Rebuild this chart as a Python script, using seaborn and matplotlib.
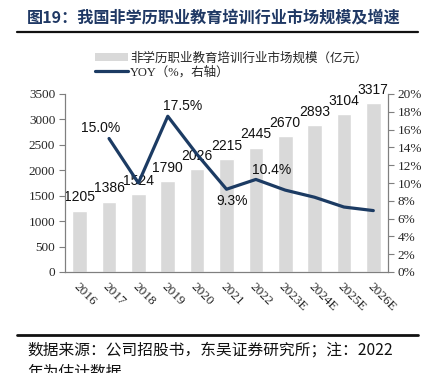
"""
图19：我国非学历职业教育培训行业市场规模及增速 (bar + line on twin axis).
"""

import numpy as np
import pandas as pd
import seaborn as sns
from matplotlib import pyplot as plt
from matplotlib.lines import Line2D
from matplotlib.patches import Patch

# === Data ===

years = ["2016", "2017", "2018", "2019", "2020", "2021", "2022",
         "2023E", "2024E", "2025E", "2026E"]
market_size = [1205, 1386, 1524, 1790, 2026, 2215, 2445, 2670, 2893, 3104, 3317]
yoy_years = ["2017", "2018", "2019", "2020", "2021", "2022",
             "2023E", "2024E", "2025E", "2026E"]
yoy = [15.0, 10.0, 17.5, 13.2, 9.3, 10.4, 9.2, 8.4, 7.3, 6.9]
yoy_labelled = {"2017": "15.0%", "2019": "17.5%", "2021": "9.3%", "2022": "10.4%"}

bar_color = "#d9d9d9"
line_color = "#1c3b63"
axis_color = "#7f7f7f"

# === Style ===

sns.set_style("white")
plt.rcParams["font.family"] = ["Liberation Serif", "Noto Sans CJK SC", "DejaVu Sans"]
cjk = ["Noto Sans CJK SC", "DejaVu Sans"]

# === Plot ===

fig = plt.figure(figsize=(4.36, 3.73), dpi=100)
ax = fig.add_axes([65 / 436, 1 - 272 / 373, 323 / 436, 178 / 373])

bars = pd.DataFrame({"year": years, "size": market_size})
sns.barplot(data=bars, x="year", y="size", color=bar_color, width=0.5,
            saturation=1, ax=ax)
ax.set_xlim(-0.5, len(years) - 0.5)
ax.set_ylim(0, 3500)
ax.set_yticks(np.arange(0, 3501, 500))
ax.set_xlabel("")
ax.set_ylabel("")

for i, v in enumerate(market_size):
    ax.annotate(str(v), (i, v), xytext=(0, 4.5), textcoords="offset points",
                ha="center", va="bottom", fontsize=10,
                family="Liberation Sans", color="#111111")

ax2 = ax.twinx()
line = pd.DataFrame({"pos": [years.index(y) for y in yoy_years], "yoy": yoy})
sns.lineplot(data=line, x="pos", y="yoy", color=line_color, lw=2.3, ax=ax2)
ax2.set_ylim(0, 20)
ax2.set_yticks(np.arange(0, 21, 2))
ax2.set_yticklabels([f"{t}%" for t in range(0, 21, 2)])
ax2.set_xlim(-0.5, len(years) - 0.5)
ax2.set_xlabel("")
ax2.set_ylabel("")

offsets = {"2017": (-6, 2.5, "center", "bottom"), "2019": (11, 2.5, "center", "bottom"),
           "2021": (4, -3.5, "center", "top"), "2022": (11, 2, "center", "bottom")}
for y, lab in yoy_labelled.items():
    dx, dy, ha, va = offsets[y]
    ax2.annotate(lab, (years.index(y), yoy[yoy_years.index(y)]), xytext=(dx, dy),
                 textcoords="offset points", ha=ha, va=va, fontsize=10,
                 family="Liberation Sans", color="#111111")

# axes cosmetics
for a in (ax, ax2):
    a.spines["top"].set_visible(False)
    for s in ("left", "right", "bottom"):
        a.spines[s].set_color(axis_color)
        a.spines[s].set_linewidth(0.8)
ax.set_xticks(np.arange(len(years)))
ax.set_xticklabels(years, rotation=-45, ha="left", va="top", rotation_mode="anchor")
ax.set_xticks(np.arange(-0.5, len(years)), minor=True)
ax.tick_params(axis="x", which="major", length=0, pad=6, labelsize=9.5)
ax.tick_params(axis="x", which="minor", length=4, color=axis_color, direction="out")
ax.tick_params(axis="y", length=4, color=axis_color, direction="out", labelsize=9.5,
               left=True, pad=3)
ax2.tick_params(axis="y", length=4, color=axis_color, direction="out", labelsize=9.5,
                right=True, pad=3)
ax.grid(False)
ax2.grid(False)

# legend
handles = [Patch(facecolor=bar_color, edgecolor="none"),
           Line2D([], [], color=line_color, lw=2.3)]
labels = ["非学历职业教育培训行业市场规模（亿元）", "YOY（%，右轴）"]
fig.legend(handles, labels, loc="upper left", bbox_to_anchor=(95 / 436, 1 - 52 / 373),
           frameon=False, prop={"family": ["Liberation Serif", "Noto Sans CJK SC"], "size": 9},
           handlelength=2.6, handleheight=0.7, handletextpad=0.2, labelspacing=0.15,
           borderaxespad=0, borderpad=0)

# title and footer
fig.text(27 / 436, 1 - 17 / 373, "图19：我国非学历职业教育培训行业市场规模及增速",
         family=cjk, fontsize=11.6, fontweight="bold", color="#1f3864", va="center")
fig.add_artist(Line2D([17 / 436, 418 / 436], [1 - 32 / 373] * 2, color="#111111", lw=1.6))
fig.add_artist(Line2D([17 / 436, 418 / 436], [1 - 335 / 373] * 2, color="#111111", lw=2))
fig.text(27 / 436, 1 - 350 / 373, "数据来源：公司招股书，东吴证券研究所；注：2022",
         family=["Noto Sans CJK SC", "Liberation Serif"], fontsize=11.3,
         color="#111111", va="center")
fig.text(27 / 436, 1 - 372 / 373, "年为估计数据",
         family=cjk, fontsize=11.3, color="#111111", va="center")

fig.savefig("out.png", dpi=100)
